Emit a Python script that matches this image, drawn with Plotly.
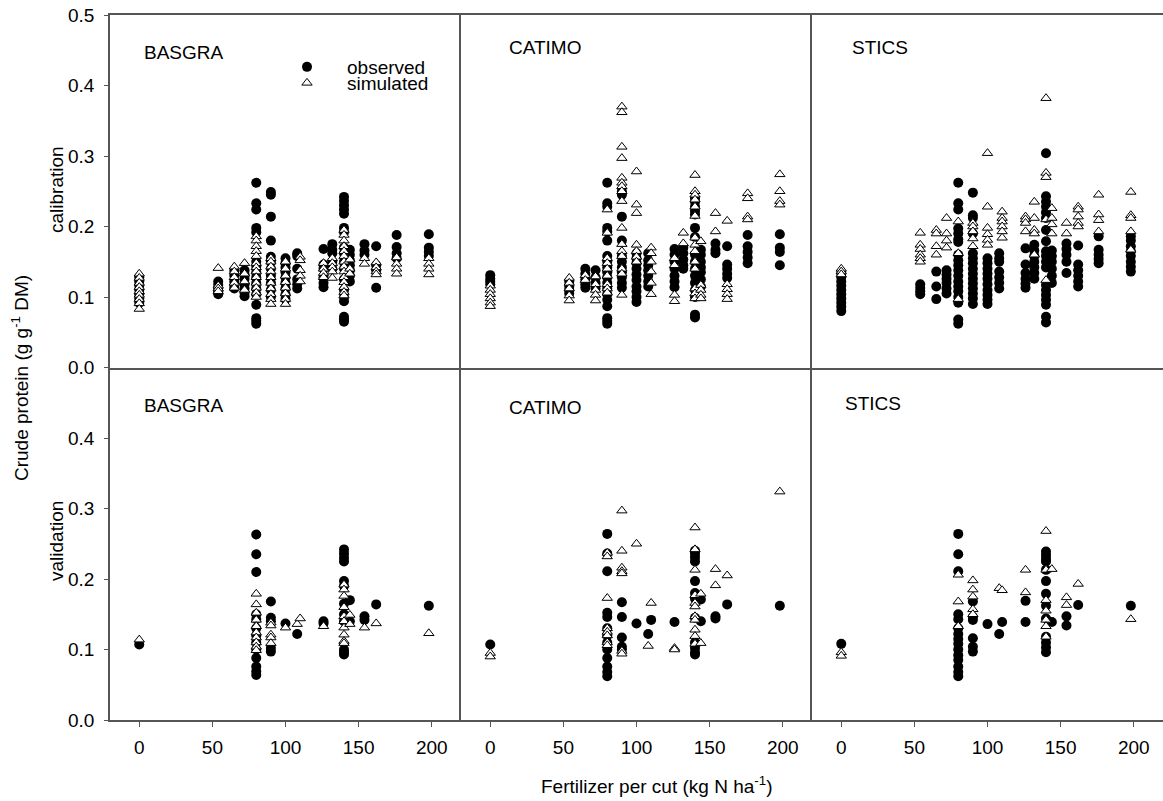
import plotly.graph_objects as go
from plotly.subplots import make_subplots

MODELS = ["BASGRA", "CATIMO", "STICS"]
ROW_LABELS = ["calibration", "validation"]
X_TICKS = [0, 50, 100, 150, 200]
Y_TICKS_TOP = [0.0, 0.1, 0.2, 0.3, 0.4, 0.5]
Y_TICKS_BOTTOM = [0.0, 0.1, 0.2, 0.3, 0.4]

# ---- calibration, observed / simulated (fertilizer level -> crude protein values)
BASGRA_CAL_OBS = {
    0: [0.128, 0.122, 0.116, 0.110, 0.104, 0.098, 0.092],
    54: [0.122, 0.117, 0.112, 0.108, 0.104],
    65: [0.137, 0.130, 0.122, 0.116, 0.112],
    72: [0.138, 0.132, 0.126, 0.118, 0.112, 0.106, 0.101],
    80: [0.262, 0.233, 0.224, 0.198, 0.192, 0.150, 0.143, 0.135, 0.128, 0.120, 0.112, 0.104, 0.089, 0.070, 0.066, 0.062],
    90: [0.249, 0.245, 0.214, 0.180, 0.157, 0.150, 0.140, 0.130, 0.120, 0.110, 0.100],
    100: [0.155, 0.148, 0.142, 0.135, 0.128, 0.120, 0.112, 0.104, 0.097],
    108: [0.162, 0.158, 0.140, 0.125, 0.118, 0.112],
    126: [0.168, 0.146, 0.140, 0.128, 0.120, 0.114],
    132: [0.175, 0.167, 0.162, 0.150, 0.140],
    140: [0.242, 0.236, 0.230, 0.224, 0.218, 0.198, 0.192, 0.170, 0.162, 0.150, 0.140, 0.125, 0.110, 0.100, 0.094, 0.072, 0.068, 0.065],
    144: [0.167, 0.160, 0.152, 0.145, 0.138, 0.130, 0.122],
    154: [0.175, 0.166, 0.160],
    162: [0.172, 0.145, 0.138, 0.113],
    176: [0.188, 0.171, 0.162, 0.155],
    198: [0.189, 0.170, 0.164, 0.158],
}
BASGRA_CAL_SIM = {
    0: [0.133, 0.127, 0.120, 0.114, 0.108, 0.103, 0.097, 0.091, 0.083],
    54: [0.141, 0.116, 0.112, 0.108],
    65: [0.143, 0.136, 0.128, 0.120, 0.113],
    72: [0.148, 0.133, 0.122, 0.110],
    80: [0.186, 0.180, 0.172, 0.165, 0.158, 0.148, 0.142, 0.136, 0.128, 0.120, 0.113, 0.106, 0.100],
    90: [0.155, 0.150, 0.143, 0.136, 0.128, 0.120, 0.112, 0.104, 0.097, 0.090],
    100: [0.150, 0.140, 0.130, 0.121, 0.113, 0.105, 0.097, 0.090],
    110: [0.157, 0.152, 0.138, 0.130, 0.122],
    126: [0.148, 0.140, 0.134, 0.128],
    132: [0.155, 0.148, 0.142, 0.136, 0.127],
    140: [0.195, 0.188, 0.180, 0.172, 0.165, 0.158, 0.150, 0.143, 0.136, 0.128, 0.121, 0.114, 0.107, 0.102],
    144: [0.153, 0.140, 0.133],
    154: [0.155, 0.147],
    162: [0.149, 0.142, 0.136, 0.132],
    176: [0.156, 0.147, 0.140, 0.133],
    198: [0.155, 0.147, 0.140, 0.132],
}
CATIMO_CAL_OBS = {
    0: [0.131, 0.126, 0.122, 0.118],
    54: [0.122, 0.115, 0.110, 0.105],
    65: [0.140, 0.133, 0.125, 0.118, 0.113],
    72: [0.138, 0.128, 0.120, 0.112],
    80: [0.262, 0.233, 0.228, 0.198, 0.193, 0.180, 0.158, 0.150, 0.142, 0.135, 0.128, 0.120, 0.112, 0.104, 0.096, 0.087, 0.070, 0.066, 0.062],
    90: [0.250, 0.245, 0.214, 0.180, 0.158, 0.150, 0.142, 0.135, 0.128, 0.120, 0.113],
    100: [0.162, 0.155, 0.148, 0.140, 0.132, 0.124, 0.115, 0.108, 0.100, 0.093],
    108: [0.162, 0.152, 0.145, 0.138, 0.130, 0.122, 0.115],
    126: [0.168, 0.160, 0.150, 0.140, 0.130, 0.122, 0.114],
    132: [0.170, 0.162, 0.153, 0.145, 0.140],
    140: [0.240, 0.235, 0.228, 0.222, 0.217, 0.198, 0.185, 0.160, 0.150, 0.140, 0.130, 0.120, 0.110, 0.100, 0.075, 0.071],
    144: [0.167, 0.160, 0.150, 0.142, 0.135, 0.125, 0.115],
    154: [0.176, 0.167, 0.162],
    162: [0.172, 0.146, 0.140, 0.133, 0.127],
    176: [0.188, 0.172, 0.164, 0.156, 0.148],
    198: [0.189, 0.170, 0.164, 0.145],
}
CATIMO_CAL_SIM = {
    0: [0.116, 0.110, 0.104, 0.098, 0.092, 0.087],
    54: [0.127, 0.120, 0.112, 0.102, 0.095],
    65: [0.131, 0.124],
    72: [0.129, 0.118, 0.110, 0.103, 0.095],
    80: [0.224, 0.191, 0.155, 0.148, 0.140, 0.130, 0.118, 0.112, 0.106],
    90: [0.370, 0.362, 0.313, 0.297, 0.269, 0.262, 0.257, 0.250, 0.236, 0.198, 0.175, 0.165, 0.158, 0.140, 0.133, 0.103],
    100: [0.278, 0.231, 0.219, 0.174, 0.165, 0.157, 0.150],
    110: [0.170, 0.162, 0.150, 0.136, 0.120, 0.104],
    126: [0.155, 0.145, 0.103, 0.094],
    132: [0.191, 0.176],
    140: [0.273, 0.250, 0.245, 0.238, 0.228, 0.215, 0.184, 0.174, 0.165, 0.150, 0.140, 0.112, 0.105, 0.098],
    144: [0.179, 0.117, 0.110, 0.103, 0.098],
    154: [0.219, 0.193],
    162: [0.208, 0.118, 0.111, 0.104, 0.097],
    176: [0.247, 0.240, 0.214, 0.210],
    198: [0.274, 0.250, 0.236, 0.231],
}
STICS_CAL_OBS = {
    0: [0.134, 0.128, 0.122, 0.116, 0.110, 0.104, 0.098, 0.092, 0.086, 0.080],
    54: [0.118, 0.113, 0.108, 0.104],
    65: [0.136, 0.115, 0.097],
    72: [0.138, 0.132, 0.126, 0.120, 0.112, 0.105],
    80: [0.262, 0.233, 0.224, 0.197, 0.190, 0.182, 0.178, 0.160, 0.152, 0.145, 0.138, 0.130, 0.122, 0.115, 0.108, 0.100, 0.092, 0.068, 0.062],
    90: [0.248, 0.216, 0.212, 0.190, 0.162, 0.155, 0.148, 0.140, 0.133, 0.126, 0.119, 0.112, 0.105, 0.098, 0.090],
    100: [0.155, 0.148, 0.140, 0.133, 0.126, 0.118, 0.110, 0.103, 0.096, 0.090],
    108: [0.162, 0.155, 0.150, 0.136, 0.128, 0.120, 0.112],
    126: [0.169, 0.146, 0.134, 0.126, 0.119, 0.113],
    132: [0.174, 0.166, 0.158, 0.150, 0.142, 0.134, 0.126],
    140: [0.304, 0.243, 0.235, 0.228, 0.220, 0.212, 0.195, 0.179, 0.165, 0.158, 0.150, 0.142, 0.117, 0.110, 0.103, 0.096, 0.089, 0.072, 0.064],
    144: [0.166, 0.158, 0.150, 0.140, 0.130, 0.120],
    154: [0.176, 0.168, 0.160, 0.150, 0.134],
    162: [0.173, 0.146, 0.138, 0.130, 0.122, 0.115],
    176: [0.186, 0.167, 0.160, 0.154, 0.148],
    198: [0.186, 0.180, 0.172, 0.165, 0.158, 0.150, 0.143, 0.136],
}
STICS_CAL_SIM = {
    0: [0.140, 0.136, 0.132],
    54: [0.191, 0.174, 0.168, 0.160, 0.155, 0.150],
    65: [0.195, 0.190, 0.172, 0.160],
    72: [0.212, 0.190, 0.180, 0.170],
    80: [0.207, 0.162, 0.097],
    90: [0.205, 0.200, 0.193, 0.183, 0.172],
    100: [0.304, 0.228, 0.198, 0.189, 0.181, 0.174],
    110: [0.221, 0.212, 0.207, 0.200, 0.193, 0.184],
    126: [0.214, 0.210, 0.205, 0.193],
    132: [0.235, 0.212, 0.195, 0.190, 0.160],
    140: [0.382, 0.276, 0.270, 0.210, 0.124],
    144: [0.226, 0.212, 0.203, 0.190],
    154: [0.205, 0.190],
    162: [0.228, 0.224, 0.214, 0.205, 0.200],
    176: [0.245, 0.217, 0.209, 0.193],
    198: [0.249, 0.216, 0.212, 0.193, 0.167],
}

# ---- validation
BASGRA_VAL_OBS = {
    0: [0.107],
    80: [0.263, 0.235, 0.210, 0.150, 0.143, 0.130, 0.120, 0.110, 0.100, 0.088, 0.076, 0.069, 0.064],
    90: [0.168, 0.145, 0.140, 0.102, 0.097],
    100: [0.137],
    108: [0.122],
    126: [0.140, 0.137],
    140: [0.242, 0.236, 0.230, 0.225, 0.197, 0.190, 0.165, 0.150, 0.140, 0.100, 0.096, 0.093],
    144: [0.170, 0.140],
    154: [0.147, 0.142],
    162: [0.164],
    198: [0.162],
}
BASGRA_VAL_SIM = {
    0: [0.114],
    80: [0.179, 0.164, 0.152, 0.142, 0.133, 0.124, 0.117, 0.110, 0.104, 0.099],
    90: [0.138, 0.134, 0.121, 0.117, 0.109],
    100: [0.131],
    108: [0.136],
    110: [0.144],
    126: [0.133],
    140: [0.192, 0.185, 0.176, 0.160, 0.147, 0.140, 0.131, 0.121, 0.112, 0.109],
    144: [0.149, 0.136],
    154: [0.131],
    162: [0.137],
    198: [0.123],
}
CATIMO_VAL_OBS = {
    0: [0.107],
    80: [0.264, 0.236, 0.211, 0.152, 0.146, 0.130, 0.120, 0.110, 0.100, 0.088, 0.076, 0.068, 0.062],
    90: [0.167, 0.146, 0.117, 0.104, 0.100],
    100: [0.137],
    108: [0.122],
    110: [0.142],
    126: [0.139],
    140: [0.240, 0.236, 0.231, 0.225, 0.197, 0.180, 0.172, 0.145, 0.110, 0.102, 0.096, 0.093],
    144: [0.171, 0.140],
    154: [0.147, 0.144],
    162: [0.164],
    198: [0.162],
}
CATIMO_VAL_SIM = {
    0: [0.095, 0.090],
    80: [0.237, 0.232, 0.173, 0.130, 0.125, 0.120, 0.110, 0.106],
    90: [0.297, 0.240, 0.216, 0.211, 0.208, 0.098, 0.094],
    100: [0.250],
    108: [0.105],
    110: [0.166],
    126: [0.102, 0.100],
    140: [0.273, 0.242, 0.213, 0.177, 0.166, 0.161, 0.147, 0.142, 0.128, 0.119, 0.108],
    144: [0.179, 0.109],
    154: [0.214, 0.191],
    162: [0.205],
    198: [0.324],
}
STICS_VAL_OBS = {
    0: [0.108],
    80: [0.264, 0.235, 0.211, 0.150, 0.143, 0.130, 0.122, 0.115, 0.108, 0.100, 0.092, 0.085, 0.076, 0.068, 0.062],
    90: [0.168, 0.146, 0.142, 0.116, 0.104, 0.097],
    100: [0.136],
    108: [0.122],
    110: [0.139],
    126: [0.169, 0.139],
    140: [0.239, 0.234, 0.229, 0.225, 0.213, 0.197, 0.179, 0.162, 0.144, 0.118, 0.110, 0.103, 0.096],
    144: [0.139],
    154: [0.147, 0.134],
    162: [0.163],
    198: [0.162],
}
STICS_VAL_SIM = {
    0: [0.096, 0.091],
    80: [0.206, 0.168, 0.133],
    90: [0.198, 0.185, 0.175, 0.157, 0.150],
    108: [0.187],
    110: [0.184],
    126: [0.213, 0.181],
    140: [0.268, 0.213, 0.170, 0.155, 0.142, 0.133, 0.118],
    144: [0.214],
    154: [0.174, 0.163],
    162: [0.193],
    198: [0.143],
}

PANELS = [
    (1, 1, BASGRA_CAL_OBS, BASGRA_CAL_SIM),
    (1, 2, CATIMO_CAL_OBS, CATIMO_CAL_SIM),
    (1, 3, STICS_CAL_OBS, STICS_CAL_SIM),
    (2, 1, BASGRA_VAL_OBS, BASGRA_VAL_SIM),
    (2, 2, CATIMO_VAL_OBS, CATIMO_VAL_SIM),
    (2, 3, STICS_VAL_OBS, STICS_VAL_SIM),
]


def expand(d):
    xs, ys = [], []
    for x, vals in d.items():
        xs += [x] * len(vals)
        ys += vals
    return xs, ys


FONT = "Arial, 'Liberation Sans', sans-serif"
FS = 19
LINE = "#555555"

W, H = 1163, 801
ML, MR, MT, MB = 110, 0, 15, 81

fig = make_subplots(rows=2, cols=3, horizontal_spacing=0, vertical_spacing=0)

first = True
for r, c, obs, sim in PANELS:
    ox, oy = expand(obs)
    sx, sy = expand(sim)
    fig.add_trace(go.Scatter(
        x=ox, y=oy, mode="markers", name="observed",
        marker=dict(symbol="circle", size=10, color="black", line=dict(width=0)),
        showlegend=first, legend="legend", hoverinfo="x+y"), row=r, col=c)
    fig.add_trace(go.Scatter(
        x=sx, y=sy, mode="markers", name="simulated",
        marker=dict(symbol="triangle-up", size=9, color="white", line=dict(width=1, color="black")),
        showlegend=first, legend="legend2", hoverinfo="x+y"), row=r, col=c)
    first = False

for r in (1, 2):
    for c in (1, 2, 3):
        bottom = r == 2
        fig.update_xaxes(
            range=[-20, 220], showgrid=False, zeroline=False,
            showline=True, linecolor=LINE, linewidth=1.5,
            mirror=(r == 1),
            tickvals=X_TICKS if bottom else [],
            ticks="outside" if bottom else "", ticklen=5, tickcolor=LINE, tickwidth=1,
            showticklabels=bottom, ticklabelstandoff=4,
            tickfont=dict(family=FONT, size=FS, color="black"),
            row=r, col=c)
        left = c == 1
        fig.update_yaxes(
            range=[0, 0.5], showgrid=False, zeroline=False,
            showline=True, linecolor=LINE, linewidth=1.5,
            tickvals=(Y_TICKS_TOP if r == 1 else Y_TICKS_BOTTOM) if left else [],
            ticks="outside" if left else "", ticklen=4, tickcolor=LINE, tickwidth=1,
            showticklabels=left, tickformat=".1f", ticklabelstandoff=6,
            tickfont=dict(family=FONT, size=FS, color="black"),
            row=r, col=c)


def px2paper(px, py):
    return (px - ML) / (W - ML - MR), (H - MB - py) / (H - MT - MB)


annotations = []
label_pos = [(142, 52.5), (507, 47.5), (850, 48), (142, 405.5), (507, 407.5), (843, 403)]
for i, (lx, ly) in enumerate(label_pos):
    xp, yp = px2paper(lx, ly)
    annotations.append(dict(text=MODELS[i % 3], x=xp, y=yp, xref="paper", yref="paper",
                            xanchor="left", yanchor="middle", showarrow=False,
                            font=dict(family=FONT, size=FS, color="black")))

for lab, ly in zip(ROW_LABELS, (190, 541)):
    xp, yp = px2paper(56, ly)
    annotations.append(dict(text=lab, x=xp, y=yp, xref="paper", yref="paper", textangle=-90,
                            xanchor="center", yanchor="middle", showarrow=False,
                            font=dict(family=FONT, size=FS, color="black")))

xp, yp = px2paper(20, 378)
annotations.append(dict(text="Crude protein (g g<sup>-1</sup> DM)", x=xp, y=yp, xref="paper", yref="paper",
                        textangle=-90, xanchor="center", yanchor="middle", showarrow=False,
                        font=dict(family=FONT, size=FS, color="black")))
xp, yp = px2paper(656, 785)
annotations.append(dict(text="Fertilizer per cut (kg N ha<sup>-1</sup>)", x=xp, y=yp, xref="paper", yref="paper",
                        xanchor="center", yanchor="middle", showarrow=False,
                        font=dict(family=FONT, size=FS, color="black")))

lx1, ly1 = px2paper(267, 67)
lx2, ly2 = px2paper(267, 83)
leg_common = dict(xref="paper", yref="paper", xanchor="left", yanchor="middle",
                  bgcolor="rgba(0,0,0,0)", borderwidth=0, itemwidth=70,
                  font=dict(family=FONT, size=FS, color="black"))

fig.update_layout(
    width=W, height=H,
    margin=dict(l=ML, r=MR, t=MT, b=MB),
    paper_bgcolor="white", plot_bgcolor="white",
    font=dict(family=FONT, size=FS, color="black"),
    annotations=annotations,
    legend=dict(x=lx1, y=ly1, **leg_common),
    legend2=dict(x=lx2, y=ly2, **leg_common),
)

fig.write_html("out.html", config={"displayModeBar": False},
               post_script="document.body.style.margin='0';document.body.style.overflow='hidden';")
